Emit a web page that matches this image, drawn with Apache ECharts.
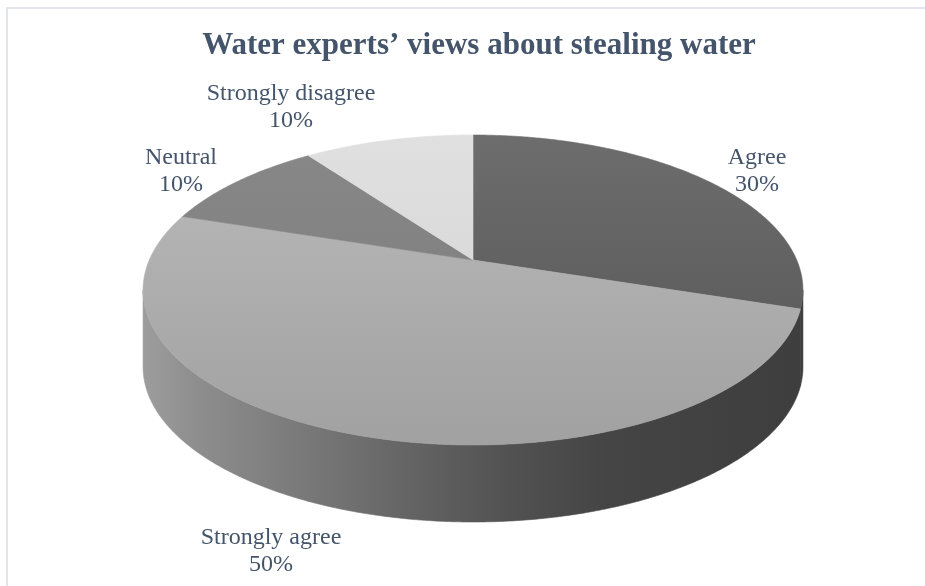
<!DOCTYPE html>
<html>
<head>
<meta charset="utf-8">
<script src="https://cdn.jsdelivr.net/npm/echarts@6.0.0/dist/echarts.min.js"></script>
<style>
  html, body { margin: 0; padding: 0; background: #ffffff; }
  #chart { width: 925px; height: 586px; }
</style>
</head>
<body>
<div id="chart"></div>
<script>
// Survey answers, in clockwise order starting at 12 o'clock
const categories = ['Agree', 'Strongly agree', 'Neutral', 'Strongly disagree'];
const values = [30, 50, 10, 10];

// Top-face shading per slice: [upper colour, lower colour]
const topShades = [
  ['#6d6d6d', '#535353'],
  ['#bababa', '#a1a1a1'],
  ['#888888', '#7a7a7a'],
  ['#e0e0e0', '#d2d2d2']
];
// Darker tone used for the slice's outer wall where it is visible
const wallShades = ['#3c3c3c', null, '#5a5a5a', '#9a9a9a'];

// Label block centres (pixels)
const labelAnchors = [[757, 171], [271, 551], [181, 171], [291, 107]];

// Perspective disc: projected centre, half-axes, foreshortening and wall depth
const disc = { cx: 473, cy: 260, b: 323.7, a: 149.2, k: -0.1935, depth: 77 };

const TEXT = '#44546a';
const FONT = 'Liberation Serif, Times New Roman, serif';

// angle in degrees measured clockwise from 12 o'clock
function proj(deg, drop) {
  const r = deg * Math.PI / 180;
  const u = Math.sin(r);
  const v = -Math.cos(r);
  const w = 1 + disc.k * v;
  return [disc.cx + disc.b * u / w, disc.cy + disc.a * v / w + (drop || 0)];
}

function arc(a0, a1, drop) {
  const pts = [];
  const n = Math.max(2, Math.ceil(Math.abs(a1 - a0) / 0.5));
  for (let i = 0; i <= n; i++) pts.push(proj(a0 + (a1 - a0) * i / n, drop));
  return pts;
}

const total = values.reduce((s, v) => s + v, 0);
const starts = [];
values.reduce((acc, v, i) => { starts[i] = acc; return acc + v; }, 0);

// silhouette angles of the cylinder (left/right tangents)
const silDeg = Math.acos(disc.k) * 180 / Math.PI; // from 12 o'clock
const silR = 180 - silDeg < 0 ? 0 : 180 - (180 - silDeg);
const wallFrom = silDeg;          // right tangent
const wallTo = 360 - silDeg;      // left tangent

const topY = proj(0)[1];
const botY = proj(180)[1];
const leftX = disc.cx - disc.b * 1.02;
const rightX = disc.cx + disc.b * 1.02;

const wallGradient = new echarts.graphic.LinearGradient(leftX, 0, rightX, 0, [
  { offset: 0.00, color: '#9d9d9d' },
  { offset: 0.08, color: '#8e8e8e' },
  { offset: 0.25, color: '#787878' },
  { offset: 0.42, color: '#626262' },
  { offset: 0.55, color: '#525252' },
  { offset: 0.70, color: '#454545' },
  { offset: 1.00, color: '#3e3e3e' }
], true);

function renderWall(params, api) {
  const i = params.dataIndex;
  const a0 = starts[i] / total * 360;
  const a1 = (starts[i] + api.value(0)) / total * 360;
  const s = Math.max(a0, wallFrom);
  const e = Math.min(a1, wallTo);
  if (e <= s) return null;
  const pts = arc(s, e, 0).concat(arc(e, s, disc.depth));
  const fill = i === 1 ? wallGradient : wallShades[i];
  return {
    type: 'polygon',
    shape: { points: pts },
    style: { fill: fill, stroke: fill, lineWidth: 0.6 }
  };
}

function renderTop(params, api) {
  const i = params.dataIndex;
  const val = api.value(0);
  const a0 = starts[i] / total * 360;
  const a1 = (starts[i] + val) / total * 360;
  const pts = [[disc.cx, disc.cy]].concat(arc(a0, a1, 0));
  const grad = new echarts.graphic.LinearGradient(0, topY, 0, botY, [
    { offset: 0, color: topShades[i][0] },
    { offset: 1, color: topShades[i][1] }
  ], true);
  const pct = Math.round(val / total * 100) + '%';
  return {
    type: 'group',
    children: [
      {
        type: 'polygon',
        shape: { points: pts },
        style: { fill: grad, stroke: grad, lineWidth: 0.6 }
      },
      {
        type: 'text',
        x: labelAnchors[i][0],
        y: labelAnchors[i][1],
        z2: 10,
        style: {
          text: categories[i] + '\n' + pct,
          fill: TEXT,
          fontFamily: FONT,
          fontSize: 24,
          lineHeight: 27,
          align: 'center',
          verticalAlign: 'middle'
        }
      }
    ]
  };
}

const seriesData = values.map((v, i) => ({ name: categories[i], value: v }));

const chart = echarts.init(document.getElementById('chart'), null, { renderer: 'canvas' });
chart.setOption({
  animation: false,
  backgroundColor: '#ffffff',
  title: {
    text: 'Water experts\u2019 views about stealing water',
    left: 474,
    top: 25,
    textAlign: 'center',
    textStyle: {
      fontFamily: FONT,
      fontWeight: 'bold',
      fontSize: 31,
      color: TEXT
    }
  },
  graphic: [{
    type: 'rect',
    shape: { x: 7, y: 8, width: 1000, height: 1000 },
    style: { fill: 'none', stroke: '#d9dee5', lineWidth: 1.5 },
    silent: true
  }],
  series: [
    {
      type: 'custom',
      name: 'wall',
      coordinateSystem: 'none',
      renderItem: renderWall,
      data: seriesData,
      z: 1
    },
    {
      type: 'custom',
      name: 'top',
      coordinateSystem: 'none',
      renderItem: renderTop,
      data: seriesData,
      z: 2
    }
  ]
});
</script>
</body>
</html>
